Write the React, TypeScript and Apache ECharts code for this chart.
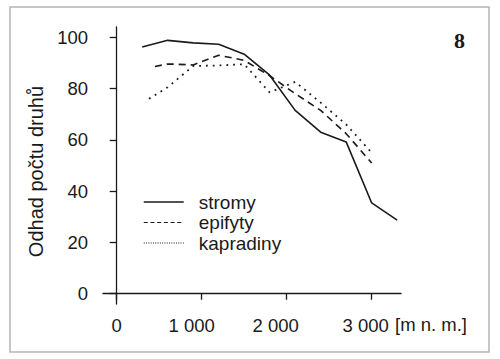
import React, { useEffect, useRef } from "react";
import * as echarts from "echarts";

// ---- data ----
const seriesNames = ["stromy", "epifyty", "kapradiny"];

const xStromy = [300, 600, 900, 1200, 1500, 1800, 2100, 2400, 2700, 3000, 3300];
const yStromy = [96.2, 98.8, 97.8, 97.3, 93.4, 85.2, 71.5, 63, 59.2, 35.4, 28.7];

const xEpifyty = [450, 600, 900, 1200, 1500, 1800, 2100, 2400, 2700, 3000];
const yEpifyty = [88.6, 89.6, 89.2, 93, 91, 85, 78, 71.5, 62.4, 51];

const xKapradiny = [380, 600, 900, 1200, 1500, 1800, 2100, 2400, 2700, 3000];
const yKapradiny = [76, 80.5, 88.8, 89, 89.5, 78.5, 82.6, 74.5, 66, 55];

const xTickValues = [0, 1000, 2000, 3000];
const xTickLabels = ["0", "1 000", "2 000", "3 000"];
const yTickValues = [0, 20, 40, 60, 80, 100];

const yAxisTitle = "Odhad počtu druhů";
const xAxisUnit = "[m n. m.]";
const panelLabel = "8";

const pairs = (xs: number[], ys: number[]) => xs.map((x, i) => [x, ys[i]]);

const FONT = "'Liberation Sans', Arial, Helvetica, sans-serif";
const INK = "#1a1a1a";

export default function App() {
  const ref = useRef<HTMLDivElement>(null);

  useEffect(() => {
    if (!ref.current) return;
    const chart = echarts.init(ref.current, null, { renderer: "svg" });

    const labelShift: Record<number, number> = { 0: 0, 1000: 20, 2000: 22, 3000: 12 };
    const rich: Record<string, any> = {};
    xTickValues.forEach((v) => {
      rich["t" + v] = {
        fontSize: 18.5,
        fontFamily: FONT,
        color: INK,
        padding: [0, labelShift[v] || 0, 0, 0],
      };
    });

    chart.setOption({
      animation: false,
      backgroundColor: "#ffffff",
      grid: { left: 103, right: 99, top: 27, bottom: 55 },
      xAxis: {
        type: "value",
        min: -161,
        max: 3345,
        splitLine: { show: false },
        axisLine: { show: true, lineStyle: { color: INK, width: 1.3 } },
        axisTick: {
          show: true,
          length: 6,
          customValues: xTickValues,
          lineStyle: { color: INK, width: 1.3 },
        },
        axisLabel: {
          customValues: xTickValues,
          margin: 12,
          fontSize: 18.5,
          fontFamily: FONT,
          color: INK,
          rich,
          formatter: (v: number) => {
            const i = xTickValues.indexOf(v);
            const t = i >= 0 ? xTickLabels[i] : String(v);
            return "{t" + v + "|" + t + "}";
          },
        },
      },
      yAxis: {
        type: "value",
        min: -4,
        max: 104,
        splitLine: { show: false },
        axisLine: { show: true, lineStyle: { color: INK, width: 1.3 } },
        axisTick: {
          show: true,
          length: 7,
          customValues: yTickValues,
          lineStyle: { color: INK, width: 1.3 },
        },
        axisLabel: {
          customValues: yTickValues,
          margin: 15,
          fontSize: 18.5,
          fontFamily: FONT,
          color: INK,
        },
        name: yAxisTitle,
        nameLocation: "middle",
        nameGap: 57,
        nameMoveOverlap: false,
        nameTextStyle: {
          fontSize: 20,
          fontFamily: FONT,
          color: INK,
          padding: [0, 12, 0, 0],
        },
      },
      legend: {
        orient: "vertical",
        left: 143,
        top: 192,
        padding: 0,
        itemWidth: 40,
        itemHeight: 14,
        itemGap: 0.5,
        itemStyle: { opacity: 0, borderWidth: 0 },
        textStyle: {
          fontSize: 19,
          fontFamily: FONT,
          color: INK,
          lineHeight: 20,
          padding: [0, 0, 0, 10],
        },
        data: [
          { name: seriesNames[0], lineStyle: { width: 1.5, type: "solid" } },
          { name: seriesNames[1], lineStyle: { width: 1.2, type: [4, 2.7] } },
          { name: seriesNames[2], lineStyle: { width: 1.2, type: [1, 1.3] } },
        ],
      },
      graphic: [
        {
          type: "rect",
          shape: { x: 10, y: 7, width: 479, height: 345 },
          style: { fill: "none", stroke: "#b4b4b4", lineWidth: 1.5 },
          silent: true,
        },
        {
          type: "text",
          x: 395,
          y: 324.5,
          style: {
            text: xAxisUnit,
            fontSize: 18.5,
            fontFamily: FONT,
            fill: INK,
            align: "left",
            verticalAlign: "middle",
          },
        },
        {
          type: "text",
          x: 459.5,
          y: 40,
          style: {
            text: panelLabel,
            fontSize: 22,
            fontWeight: "bold",
            fontFamily: "'Liberation Serif', 'Times New Roman', serif",
            fill: INK,
            align: "center",
            verticalAlign: "middle",
          },
        },
      ],
      series: [
        {
          name: seriesNames[0],
          type: "line",
          symbol: "none",
          data: pairs(xStromy, yStromy),
          lineStyle: { color: INK, width: 1.6, type: "solid" },
          itemStyle: { color: INK },
        },
        {
          name: seriesNames[1],
          type: "line",
          symbol: "none",
          data: pairs(xEpifyty, yEpifyty),
          lineStyle: { color: INK, width: 1.6, type: [7, 5] },
          itemStyle: { color: INK },
        },
        {
          name: seriesNames[2],
          type: "line",
          symbol: "none",
          data: pairs(xKapradiny, yKapradiny),
          lineStyle: { color: INK, width: 1.8, type: [1.8, 5], cap: "butt" },
          itemStyle: { color: INK },
        },
      ],
    });

    return () => chart.dispose();
  }, []);

  return (
    <div
      ref={ref}
      style={{ position: "fixed", left: 0, top: 0, width: 500, height: 359 }}
    />
  );
}
